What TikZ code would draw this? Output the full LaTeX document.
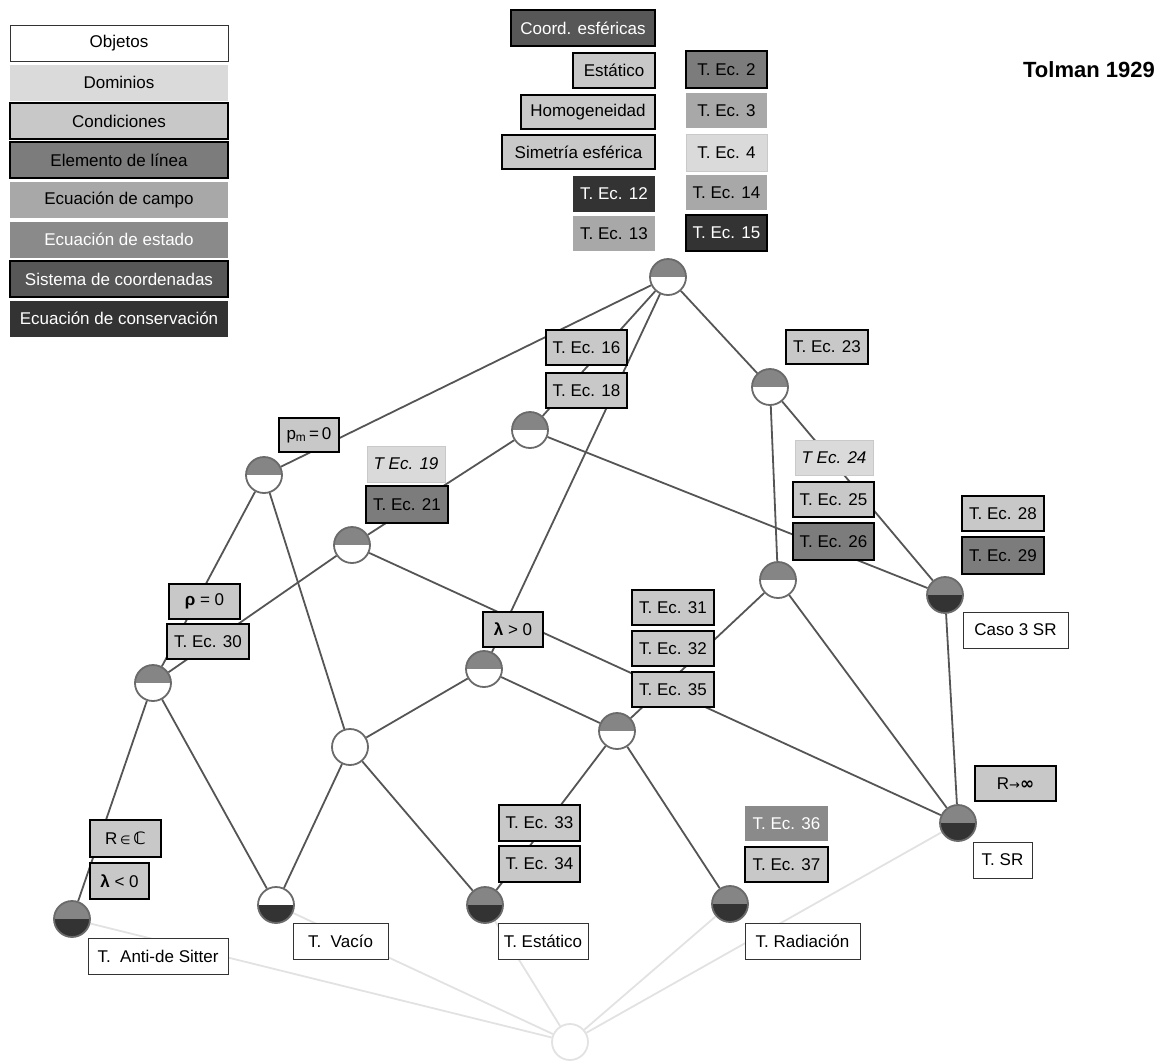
\documentclass[tikz,border=0pt]{standalone}
\usepackage{fontspec}
\setmainfont{Liberation Sans}
\newfontfamily\symf{DejaVu Sans}
\usetikzlibrary{backgrounds}
\definecolor{domc}{HTML}{DADADA}
\definecolor{condc}{HTML}{C8C8C8}
\definecolor{elemc}{HTML}{7C7C7C}
\definecolor{campoc}{HTML}{A8A8A8}
\definecolor{estadoc}{HTML}{8A8A8A}
\definecolor{sistc}{HTML}{575757}
\definecolor{consc}{HTML}{333333}
\definecolor{edgec}{HTML}{555555}
\definecolor{lightc}{HTML}{E2E2E2}
\definecolor{circb}{HTML}{6A6A6A}
\definecolor{halfg}{HTML}{858585}
\definecolor{halfd}{HTML}{333333}
\tikzset{
  box/.style={minimum height=35pt, inner sep=0pt, font=\fontsize{17}{20}\selectfont, anchor=center},
  obj/.style={box, draw=black!80, line width=1pt, fill=white},
  dom/.style={box, fill=domc, draw=domc!92!black, line width=0.6pt},
  cond/.style={box, fill=condc, draw=black, line width=2pt},
  elem/.style={box, fill=elemc, draw=black, line width=2pt},
  campo/.style={box, fill=campoc},
  estado/.style={box, fill=estadoc, text=white},
  sist/.style={box, fill=sistc, draw=black, line width=2pt, text=white},
  cons/.style={box, fill=consc, text=white},
  hn/.style 2 args={circle, minimum size=36pt, inner sep=0pt, draw=circb, line width=1.8pt, fill=white,
    path picture={\fill[#1] (path picture bounding box.north west) rectangle (path picture bounding box.east);
                  \fill[#2] (path picture bounding box.west) rectangle (path picture bounding box.south east);}},
  edge/.style={draw=edgec, line width=1.8pt},
  ledge/.style={draw=lightc, line width=1.8pt},
}
\begin{document}
\begin{tikzpicture}[x=1pt,y=-1pt]
\useasboundingbox (0,0) rectangle (1165,1061);
% legend
\node[obj, minimum width=218pt, minimum height=36pt] (l1) at (119,43) {Objetos};
\node[dom, minimum width=218pt, minimum height=36pt, draw=none] (l2) at (119,82.5) {Dominios};
\node[cond, minimum width=218pt, minimum height=36pt] (l3) at (119,121) {Condiciones};
\node[elem, minimum width=218pt, minimum height=36pt] (l4) at (119,160) {Elemento de línea};
\node[campo, minimum width=218pt, minimum height=36pt] (l5) at (119,200) {Ecuación de campo};
\node[estado, minimum width=218pt, minimum height=36pt] (l6) at (119,239.5) {Ecuación de estado};
\node[sist, minimum width=218pt, minimum height=36pt] (l7) at (119,279) {Sistema de coordenadas};
\node[cons, minimum width=218pt, minimum height=36pt] (l8) at (119,318.5) {Ecuación de conservación};
% title
\node[font=\fontsize{22}{26}\selectfont\bfseries, anchor=east, inner sep=0pt] (title) at (1155,70) {Tolman 1929};
% top labels
\node[sist, minimum width=144pt, minimum height=36pt] (coord) at (583,28) {Coord. esféricas};
\node[cond, minimum width=82pt] (estat) at (614,70.5) {Estático};
\node[cond, minimum width=134pt, minimum height=34pt] (homog) at (588,112) {Homogeneidad};
\node[cond, minimum width=153pt, minimum height=34pt] (simet) at (578.5,152) {Simetría esférica};
\node[cons, minimum width=82pt, minimum height=36pt] (e12) at (614,194) {T. Ec. 12};
\node[campo, minimum width=82pt] (e13) at (614,233.5) {T. Ec. 13};
\node[elem, minimum width=81pt, minimum height=37pt] (e2) at (726.5,69.5) {T. Ec. 2};
\node[campo, minimum width=81pt] (e3) at (726.5,110.5) {T. Ec. 3};
\node[dom, minimum width=81pt, minimum height=37pt] (e4) at (726.5,152.5) {T. Ec. 4};
\node[campo, minimum width=81pt] (e14) at (726.5,192.5) {T. Ec. 14};
\node[cons, minimum width=81pt, minimum height=36pt, draw=black, line width=1.5pt] (e15) at (726.5,233) {T. Ec. 15};
% circles
\node[hn={halfg}{white}] (top) at (668,277) {};
\node[hn={halfg}{white}] (n23) at (770,387) {};
\node[hn={halfg}{white}] (n18) at (530,430) {};
\node[hn={halfg}{white}] (pm) at (264,475) {};
\node[hn={halfg}{white}] (n21) at (352,545) {};
\node[hn={halfg}{halfd}] (c3sr) at (945,595) {};
\node[hn={halfg}{white}] (n26) at (778,580) {};
\node[hn={halfg}{white}] (n30) at (153,683) {};
\node[hn={halfg}{white}] (lam) at (484,669) {};
\node[hn={halfg}{white}] (n35) at (617,731) {};
\node[hn={white}{white}] (mid) at (350,747) {};
\node[hn={halfg}{halfd}] (sr) at (958,823) {};
\node[hn={halfg}{halfd}] (ads) at (72,919) {};
\node[hn={white}{halfd}] (vac) at (276,905) {};
\node[hn={halfg}{halfd}] (est) at (485,905) {};
\node[hn={halfg}{halfd}] (rad) at (730,904) {};
\node[circle, minimum size=36pt, inner sep=0pt, draw=lightc, line width=1.8pt, fill=white] (bot) at (570,1042) {};
% other labels
\node[cond, minimum width=81pt] (e16) at (586.5,347.5) {T. Ec. 16};
\node[cond, minimum width=81pt] (e18) at (586.5,390.5) {T. Ec. 18};
\node[cond, minimum width=82pt, minimum height=34pt] (e23) at (827,347) {T. Ec. 23};
\node[cond, minimum width=60pt, minimum height=34pt] (pm0) at (309,435) {p\textsubscript{m}\,=\,0};
\node[dom, minimum width=78pt, minimum height=36pt, font=\fontsize{17}{20}\selectfont\itshape] (e19) at (406,464) {T Ec. 19};
\node[elem, minimum width=82pt, minimum height=37pt] (e21) at (407,504.5) {T. Ec. 21};
\node[dom, minimum width=78pt, font=\fontsize{17}{20}\selectfont\itshape] (e24) at (834,457.5) {T Ec. 24};
\node[cond, minimum width=81pt] (e25) at (833.5,499.5) {T. Ec. 25};
\node[elem, minimum width=81pt, minimum height=37pt] (e26) at (833.5,541.5) {T. Ec. 26};
\node[cond, minimum width=82pt] (e28) at (1003,513.5) {T. Ec. 28};
\node[elem, minimum width=82pt, minimum height=37pt] (e29) at (1003,555.5) {T. Ec. 29};
\node[obj, minimum width=105pt, minimum height=36pt] (caso) at (1015.5,630) {Caso 3 SR};
\node[cond, minimum width=71pt] (rho) at (204.5,601.5) {{\bfseries ρ} = 0};
\node[cond, minimum width=82pt] (e30) at (208,641.5) {T. Ec. 30};
\node[cond, minimum width=60pt] (lgt) at (513,629.5) {{\bfseries λ} > 0};
\node[cond, minimum width=82pt] (e31) at (673,607.5) {T. Ec. 31};
\node[cond, minimum width=82pt] (e32) at (673,648.5) {T. Ec. 32};
\node[cond, minimum width=82pt] (e35) at (673,689.5) {T. Ec. 35};
\node[cond, minimum width=71pt, minimum height=37pt] (rinc) at (125.5,838.5) {R\,{\symf\fontsize{12}{14}\selectfont ∈}\,{\symf\bfseries ℂ}};
\node[cond, minimum width=59pt, minimum height=36pt] (llt) at (119.5,881) {{\bfseries λ} < 0};
\node[cond, minimum width=81pt, minimum height=36pt] (e33) at (539.5,823) {T. Ec. 33};
\node[cond, minimum width=81pt, minimum height=36pt] (e34) at (539.5,864) {T. Ec. 34};
\node[estado, minimum width=83pt] (e36) at (786.5,823.5) {T. Ec. 36};
\node[cond, minimum width=83pt] (e37) at (786.5,864.5) {T. Ec. 37};
\node[cond, minimum width=81pt] (rinf) at (1015.5,783.5) {R{\symf\fontsize{13}{14}\selectfont →}{\symf\bfseries ∞}};
\node[obj, minimum width=59pt, minimum height=36pt] (tsr) at (1002.5,860) {T. SR};
\node[obj, minimum width=140pt, minimum height=36pt] (tads) at (158,956) {T.\ \ Anti-de Sitter};
\node[obj, minimum width=95pt, minimum height=36pt] (tvac) at (340.5,941) {T.\ \ Vacío};
\node[obj, minimum width=90pt, minimum height=36pt] (test) at (543,941) {T. Estático};
\node[obj, minimum width=115pt, minimum height=36pt] (trad) at (802.5,941) {T. Radiación};
% edges
\begin{pgfonlayer}{background}
\draw[ledge] (bot) -- (ads);
\draw[ledge] (bot) -- (vac);
\draw[ledge] (bot) -- (est);
\draw[ledge] (bot) -- (rad);
\draw[ledge] (bot) -- (sr);
\draw[edge] (top) -- (pm);
\draw[edge] (top) -- (n18);
\draw[edge] (top) -- (lam);
\draw[edge] (top) -- (n23);
\draw[edge] (n23) -- (c3sr);
\draw[edge] (n23) -- (n26);
\draw[edge] (n18) -- (n21);
\draw[edge] (n18) -- (c3sr);
\draw[edge] (pm) -- (n30);
\draw[edge] (pm) -- (mid);
\draw[edge] (n21) -- (n30);
\draw[edge] (n21) -- (sr);
\draw[edge] (lam) -- (mid);
\draw[edge] (lam) -- (n35);
\draw[edge] (n35) -- (n26);
\draw[edge] (n26) -- (sr);
\draw[edge] (c3sr) -- (sr);
\draw[edge] (n30) -- (ads);
\draw[edge] (n30) -- (vac);
\draw[edge] (mid) -- (vac);
\draw[edge] (mid) -- (est);
\draw[edge] (n35) -- (est);
\draw[edge] (n35) -- (rad);
\end{pgfonlayer}
\end{tikzpicture}
\end{document}
